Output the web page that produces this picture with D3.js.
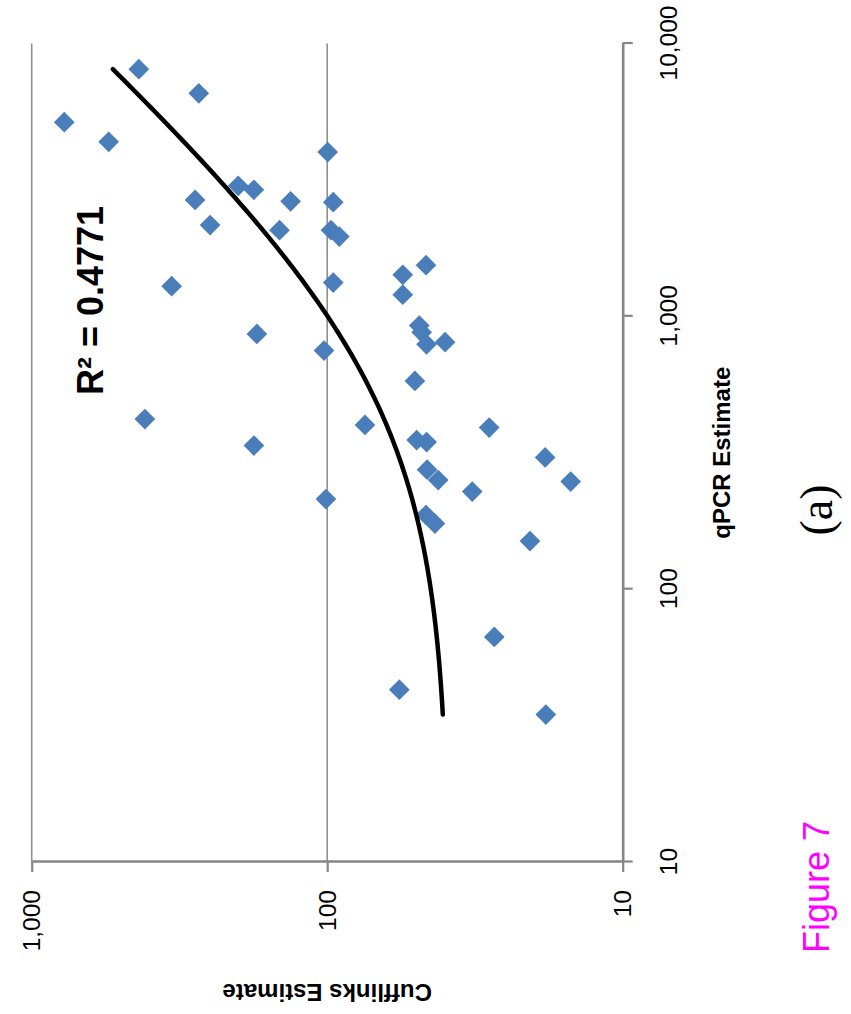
<!DOCTYPE html>
<html>
<head>
<meta charset="utf-8">
<script src="https://cdn.jsdelivr.net/npm/d3@7"></script>
<style>
  html, body { margin: 0; padding: 0; background: #fff; }
  svg { display: block; }
</style>
</head>
<body>
<script>
// Axis ticks
const qpcrTicks = [10, 100, 1000, 10000];
const cufflinksTicks = [10, 100, 1000];

// Per-gene expression estimates (qPCR vs. Cufflinks)
const qpcrValues = [
  8050, 6570, 5150, 4360, 4000, 3010, 2910, 2670, 2640, 2620,
  2160, 2070, 2070, 1960, 1290, 1330, 1540, 1420, 1200, 925,
  874, 790, 804, 862, 749, 580, 420, 400, 391, 352,
  346, 336, 304, 274, 251, 248, 228, 214, 187, 174,
  150, 66.8, 42.8, 34.7
];
const cufflinksValues = [
  434, 272, 776, 549, 99.6, 200, 177, 280, 133, 95.4,
  249, 145, 97.1, 91.0, 336, 95.4, 46.3, 55.5, 55.5, 48.8,
  47.9, 46.1, 39.9, 173, 102.5, 50.5, 414, 74.5, 28.3, 49.8,
  46.1, 177, 18.3, 45.9, 42.1, 15.0, 32.3, 101, 46.3, 43.2,
  20.6, 27.2, 57.0, 18.2
];

// Linear trend line (Cufflinks = slope * qPCR + intercept) and its fit
const trendSlope = 0.0612;
const trendIntercept = 38.5;
const rSquared = "0.4771";

const figureLabel = "Figure 7";
const panelLabel = "(a)";
const qpcrTitle = "qPCR Estimate";
const cufflinksTitle = "Cufflinks Estimate";

// Page and plot geometry; the whole chart is turned a quarter turn counter-clockwise
const pageW = 851, pageH = 1014;
const plotLen = 818.5;   // length of the qPCR axis
const plotDepth = 591;   // length of the Cufflinks axis
const origin = [31.7, 862];

const sans = "'Liberation Sans', Arial, sans-serif";

const svg = d3.select("body").append("svg")
  .attr("width", pageW)
  .attr("height", pageH);

svg.append("rect").attr("width", pageW).attr("height", pageH).attr("fill", "#fff");

const chart = svg.append("g")
  .attr("transform", `translate(${origin[0]},${origin[1]}) rotate(-90)`);

const x = d3.scaleLog().domain([10, 10000]).range([0, plotLen]);
const y = d3.scaleLog().domain([10, 1000]).range([plotDepth, 0]);

// Major gridlines on the Cufflinks axis
chart.append("g")
  .selectAll("line")
  .data(cufflinksTicks.filter(d => d > 10))
  .join("line")
  .attr("x1", 0).attr("x2", plotLen)
  .attr("y1", d => y(d)).attr("y2", d => y(d))
  .attr("stroke", "#8f8f8f")
  .attr("stroke-width", 1.6);

// Axes
const fmt = d3.format(",");
const xAxis = chart.append("g")
  .attr("transform", `translate(0,${plotDepth})`)
  .call(d3.axisBottom(x).tickValues(qpcrTicks).tickFormat(fmt)
    .tickSize(10).tickSizeOuter(0).tickPadding(27));
const yAxis = chart.append("g")
  .call(d3.axisLeft(y).tickValues(cufflinksTicks).tickFormat(fmt)
    .tickSize(10).tickSizeOuter(0).tickPadding(18));

[xAxis, yAxis].forEach(g => {
  g.select(".domain").attr("stroke", "#868686").attr("stroke-width", 2.6);
  g.selectAll(".tick line").attr("stroke", "#868686").attr("stroke-width", 2.2);
  g.selectAll(".tick text")
    .attr("font-family", sans)
    .attr("font-size", 24.5)
    .attr("fill", "#000");
});

// Data points as diamonds
const points = qpcrValues.map((q, i) => ({ q, c: cufflinksValues[i] }));
chart.append("g")
  .selectAll("path")
  .data(points)
  .join("path")
  .attr("d", d3.symbol(d3.symbolSquare, 215))
  .attr("transform", d => `translate(${x(d.q)},${y(d.c)}) rotate(45)`)
  .attr("fill", "#4A7EBB");

// Trend line across the qPCR range of the data
const [qMin, qMax] = d3.extent(qpcrValues);
const lo = Math.log10(qMin), hi = Math.log10(qMax);
const samples = d3.range(0, 121).map(i => Math.pow(10, lo + (hi - lo) * i / 120));
chart.append("path")
  .datum(samples)
  .attr("d", d3.line().x(q => x(q)).y(q => y(trendSlope * q + trendIntercept)))
  .attr("fill", "none")
  .attr("stroke", "#000")
  .attr("stroke-width", 4.5)
  .attr("stroke-linecap", "round");

// Fit label
const rText = chart.append("text")
  .attr("x", 467).attr("y", 71)
  .attr("font-family", sans)
  .attr("font-weight", "bold")
  .attr("font-size", 36)
  .attr("fill", "#000");
rText.text(`R² = ${rSquared}`);

// Axis titles
chart.append("text")
  .attr("x", plotLen / 2).attr("y", 698)
  .attr("text-anchor", "middle")
  .attr("font-family", sans)
  .attr("font-weight", "bold")
  .attr("font-size", 24)
  .attr("fill", "#000")
  .text(qpcrTitle);

chart.append("text")
  .attr("transform", `translate(-122,${plotDepth / 2}) rotate(-90)`)
  .attr("text-anchor", "middle")
  .attr("font-family", sans)
  .attr("font-weight", "bold")
  .attr("font-size", 24)
  .attr("fill", "#000")
  .text(cufflinksTitle);

// Panel and figure captions
svg.append("text")
  .attr("transform", "translate(832,510) rotate(-90)")
  .attr("text-anchor", "middle")
  .attr("font-family", "'Liberation Serif', 'DejaVu Serif', serif")
  .attr("font-size", 46)
  .attr("fill", "#000")
  .text(panelLabel);

svg.append("text")
  .attr("transform", "translate(829,953) rotate(-90)")
  .attr("font-family", sans)
  .attr("font-size", 36)
  .attr("fill", "#FF00FF")
  .text(figureLabel);
</script>
</body>
</html>
